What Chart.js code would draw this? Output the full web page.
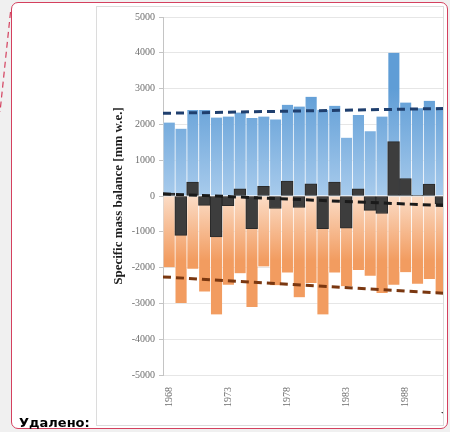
<!DOCTYPE html>
<html>
<head>
<meta charset="utf-8">
<script src="https://cdn.jsdelivr.net/npm/chart.js@4.4.1/dist/chart.umd.min.js"></script>
<style>
  html, body { margin: 0; padding: 0; width: 450px; height: 432px; overflow: hidden; background: #f0f0f0; }
  #balloon { position: absolute; left: 11px; top: 2px; width: 435px; height: 425px;
    border: 1.5px solid #d4405e; border-radius: 7px; background: #fff; }
  #frame { position: absolute; left: 96px; top: 6px; width: 346px; height: 418px; overflow: hidden;
    background: #fff; border: 1px solid #dcdcdc; }
  #chartBox { position: absolute; left: 0; top: 0; width: 360px; height: 418px; }
  #yearTitle { position: absolute; left: 344px; top: 401px; font: bold 13px "Liberation Serif", serif; color: #111; }
  #deleted { position: absolute; left: 19px; top: 415px; font: bold 13px "DejaVu Sans", sans-serif; color: #000; }
  #connector { position: absolute; left: 0; top: 0; }
</style>
</head>
<body>
<svg id="connector" width="20" height="120">
  <line x1="10.5" y1="12" x2="0" y2="112" stroke="#d4405e" stroke-width="1.2" stroke-dasharray="6,4"/>
</svg>
<div id="balloon"></div>
<div id="frame">
  <div id="chartBox"><canvas id="massChart"></canvas></div>
  <div id="yearTitle">Year</div>
</div>
<div id="deleted">Удалено:</div>

<script>
"use strict";

// years shown in the visible part of the figure
const years = ["1968", "1969", "1970", "1971", "1972", "1973", "1974", "1975", "1976", "1977",
  "1978", "1979", "1980", "1981", "1982", "1983", "1984", "1985", "1986", "1987",
  "1988", "1989", "1990", "1991"];

// winter (accumulation) balance, mm w.e.
const accumulation = [2050, 1880, 2400, 2400, 2190, 2220, 2330, 2180, 2220, 2140,
  2550, 2500, 2770, 2410, 2520, 1630, 2260, 1810, 2220, 4000,
  2610, 2450, 2660, 2480];

// summer (ablation) balance, mm w.e.
const ablation = [-1990, -2990, -2030, -2670, -3310, -2480, -2160, -3100, -1970, -2490,
  -2140, -2830, -2430, -3310, -2140, -2520, -2065, -2230, -2710, -2480,
  -2130, -2450, -2320, -2710];

// net (annual) balance, mm w.e.
const netBalance = [80, -1100, 390, -260, -1140, -270, 200, -910, 270, -350,
  420, -320, 340, -910, 390, -900, 200, -400, -490, 1520,
  490, 20, 330, -220];

// trend line end points [start, end]
const trendX = [1967.5, 1991.5];
const accTrend = [2310, 2445];
const netTrend = [60, -270];
const ablTrend = [-2260, -2720];

const yTicks = { min: -5000, max: 5000, step: 1000 };

function toPoints(ys) {
  return ys.map((y, i) => ({ x: trendX[i], y: y }));
}

// vertical gradient from the zero line towards a target value
function barGradient(context, target, nearZero, farColor) {
  const chart = context.chart;
  const area = chart.chartArea;
  if (!area) return farColor;
  const y0 = chart.scales.y.getPixelForValue(0);
  const y1 = chart.scales.y.getPixelForValue(target);
  const g = chart.ctx.createLinearGradient(0, y0, 0, y1);
  g.addColorStop(0, nearZero);
  g.addColorStop(1, farColor);
  return g;
}

const ctx = document.getElementById("massChart").getContext("2d");

new Chart(ctx, {
  type: "bar",
  data: {
    labels: years,
    datasets: [
      {
        type: "line", xAxisID: "xt", data: toPoints(accTrend), order: 0,
        borderColor: "#1f3f6e", borderWidth: 3, borderDash: [8, 5], pointRadius: 0, fill: false,
      },
      {
        type: "line", xAxisID: "xt", data: toPoints(netTrend), order: 0,
        borderColor: "#1a1a1a", borderWidth: 3, borderDash: [8, 5], pointRadius: 0, fill: false,
      },
      {
        type: "line", xAxisID: "xt", data: toPoints(ablTrend), order: 0,
        borderColor: "#7a3710", borderWidth: 3, borderDash: [8, 5], pointRadius: 0, fill: false,
      },
      {
        label: "Net", data: netBalance, order: 1, grouped: false,
        backgroundColor: "#3d3d3d", borderColor: "#2a2a2a", borderWidth: 1, borderSkipped: false,
        barPercentage: 1, categoryPercentage: 1,
      },
      {
        label: "Accumulation", data: accumulation, order: 2, grouped: false,
        backgroundColor: (c) => barGradient(c, 3000, "#a8cbec", "#5f9dd6"),
        borderColor: "rgba(255,255,255,0.35)", borderWidth: { left: 1, right: 0, top: 0, bottom: 0 },
        borderSkipped: false, barPercentage: 1, categoryPercentage: 1,
      },
      {
        label: "Ablation", data: ablation, order: 2, grouped: false,
        backgroundColor: (c) => barGradient(c, -1800, "#fbdcc6", "#f29c60"),
        borderColor: "rgba(255,255,255,0.35)", borderWidth: { left: 1, right: 0, top: 0, bottom: 0 },
        borderSkipped: false, barPercentage: 1, categoryPercentage: 1,
      },
    ],
  },
  options: {
    responsive: true,
    maintainAspectRatio: false,
    animation: false,
    layout: { padding: { left: 14, right: 6, top: 7, bottom: 0 } },
    plugins: { legend: { display: false }, tooltip: { enabled: false } },
    scales: {
      x: {
        offset: true,
        grid: { display: false },
        border: { display: false },
        afterFit: (scale) => { scale.height = 50; },
        ticks: {
          autoSkip: false, maxRotation: 90, minRotation: 90, padding: 4,
          color: "#6e6e6e", font: { family: "Liberation Serif", size: 10 },
          callback: (val, i) => (i % 5 === 0 ? years[i] : ""),
        },
      },
      xt: {
        type: "linear", display: false, offset: false, bounds: "data",
        min: trendX[0], max: trendX[1], grid: { offset: false },
      },
      y: {
        min: yTicks.min, max: yTicks.max,
        afterFit: (scale) => { scale.width = 52; },
        ticks: {
          stepSize: yTicks.step, padding: 4,
          color: "#6e6e6e", font: { family: "Liberation Serif", size: 10 },
          callback: (v) => String(v),
        },
        grid: { color: "#e6e6e6", tickColor: "#c4c4c4", tickLength: 4 },
        border: { color: "#c4c4c4" },
        title: {
          display: true, text: "Specific mass balance [mm w.e.]", color: "#1e1e1e",
          font: { family: "Liberation Serif", size: 13, weight: "bold" }, padding: 0,
        },
      },
    },
  },
});
</script>
</body>
</html>
